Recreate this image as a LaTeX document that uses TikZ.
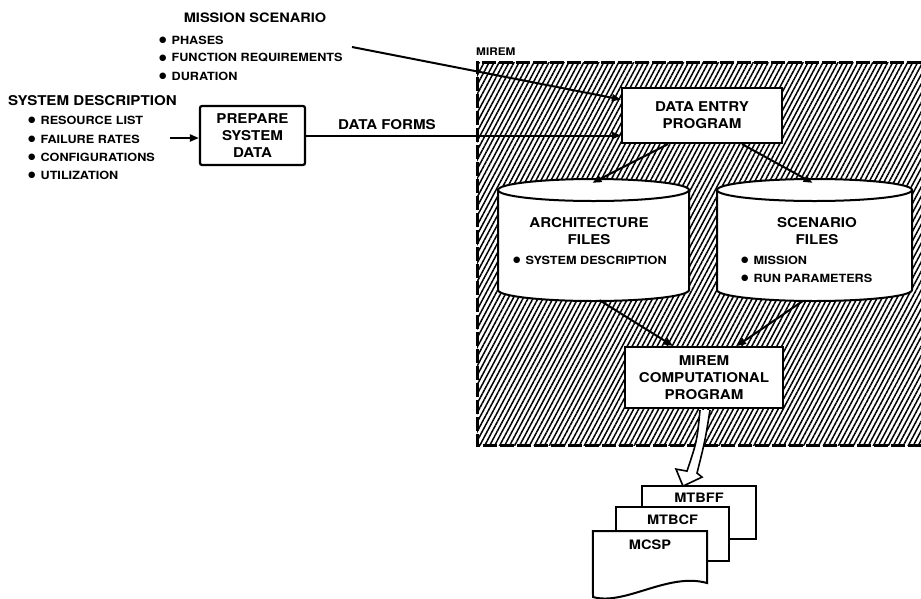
\documentclass[tikz,border=0pt]{standalone}
\usepackage{fontspec}
\setmainfont{TeX Gyre Heros}[FakeStretch=1.12]
\newfontfamily\djv{DejaVu Sans}
\usetikzlibrary{arrows.meta,patterns.meta,calc}
\newcommand\bul{\raisebox{1.4pt}{\djv\fontsize{8.5}{8.5}\selectfont ●}\hspace{5pt}}
\newcommand\drawcyl[5]{%
  \filldraw[fill=white,line width=2pt] (#1-#4,#2) -- (#1-#4,#3)
    arc[start angle=180,end angle=0,x radius=#4,y radius=#5] -- (#1+#4,#2)
    arc[start angle=360,end angle=180,x radius=#4,y radius=#5] -- cycle;
  \draw[line width=2pt] (#1-#4,#2) arc[start angle=180,end angle=0,x radius=#4,y radius=#5];}
\tikzset{
  ttl/.style={font=\fontsize{13}{15}\selectfont\bfseries,inner sep=0pt},
  itm/.style={font=\fontsize{11.3}{12}\selectfont\bfseries,inner sep=0pt,anchor=west},
  box/.style={draw,line width=2.2pt,fill=white,align=center,font=\fontsize{13.5}{17}\selectfont\bfseries},
  con/.style={line width=2pt,-{Triangle[length=9pt,width=7pt]}},
  doc/.style={draw,line width=2pt,fill=white,anchor=north,inner ysep=3pt,font=\fontsize{13}{15}\selectfont\bfseries},
}
\begin{document}
\begin{tikzpicture}[x=1pt,y=-1pt]
\useasboundingbox (0,0) rectangle (921,598);
% MIREM hatched region
\fill[pattern={Lines[angle=62,distance=4.4pt,line width=1.5pt]}] (477,62) rectangle (921,445);
\draw[line width=3pt,dash pattern=on 14pt off 3pt] (921,62) -- (477,62) -- (477,445) -- (921,445);
\node[ttl,anchor=west,font=\fontsize{10.5}{12}\selectfont\bfseries] (mirem) at (476,52) {MIREM};

% mission scenario
\node[ttl] (ms) at (255,18) {MISSION SCENARIO};
\node[itm] (ph) at (159,40) {\bul PHASES};
\node[itm] (fr) at (159,58) {\bul FUNCTION REQUIREMENTS};
\node[itm] (du) at (159,76) {\bul DURATION};

% system description
\node[ttl,anchor=west,font=\fontsize{13.5}{15}\selectfont\bfseries] (sd) at (8,101) {SYSTEM DESCRIPTION};
\node[itm] (rl) at (28,120) {\bul RESOURCE LIST};
\node[itm] (fa) at (28,139) {\bul FAILURE RATES};
\node[itm] (cf) at (28,157) {\bul CONFIGURATIONS};
\node[itm] (ut) at (28,175) {\bul UTILIZATION};

% boxes
\node[box,minimum width=105,minimum height=59,rounded corners=2pt] (prep) at (252.5,135.5) {PREPARE\\SYSTEM\\DATA};
\node[box,minimum width=160,minimum height=55] (de) at (702,115.5) {DATA ENTRY\\PROGRAM};
\node[box,minimum width=158,minimum height=61] (comp) at (704,377.5) {MIREM\\COMPUTATIONAL\\PROGRAM};
\node[font=\fontsize{13.5}{15}\selectfont\bfseries,inner sep=0pt] (df) at (387,125) {DATA FORMS};

% cylinders
\drawcyl{593.5}{190}{290}{95.5}{11}
\drawcyl{814.5}{190}{290}{97.5}{11}
\node[minimum width=191,minimum height=122,inner sep=0pt] (arch) at (593.5,240) {};
\node[minimum width=195,minimum height=122,inner sep=0pt] (scen) at (814.5,240) {};
\node[align=center,font=\fontsize{13.5}{17}\selectfont\bfseries] at (589,231.5) {ARCHITECTURE\\FILES};
\node[itm] at (513,260) {\bul SYSTEM DESCRIPTION};
\node[align=center,font=\fontsize{13.5}{17}\selectfont\bfseries] at (817,231.5) {SCENARIO\\FILES};
\node[itm] at (741,260) {\bul MISSION};
\node[itm] at (741,278) {\bul RUN PARAMETERS};

% documents
\node[doc,minimum width=114,text height=13pt,text depth=34pt] (mtbff) at (699,485) {MTBFF};
\node[doc,minimum width=113,text height=14.5pt,text depth=33.5pt] (mtbcf) at (672.5,506) {MTBCF};
\node[anchor=north,inner ysep=3pt,minimum width=114,text height=15.5pt,text depth=40pt,font=\fontsize{13}{15}\selectfont\bfseries] (mcsp) at (650,531) {};
\filldraw[fill=white,line width=2pt] (mcsp.north west) -- (593,597) .. controls (625,606) and (668,572) .. (707,583) -- (mcsp.north east) -- cycle;
\node[font=\fontsize{13}{15}\selectfont\bfseries,anchor=base] at (650,549.5) {MCSP};

% connectors
\coordinate (sdout) at (170,138);
\draw[con] (sdout) -- (prep.west |- sdout);
\draw[con] (prep.east) -- (prep.east -| de.west);
\coordinate (msout) at (352,47);
\draw[con] (msout) -- ($(de.north west)!0.22!(de.south west)$);
\draw[con] ($(de.south)+(-34,0)$) -- ($(arch.north)+(-1,4)$);
\draw[con] ($(de.south)+(40,0)$) -- ($(scen.north)+(-2,4)$);
\draw[con] ($(arch.south)+(6,-1)$) -- ($(comp.north)+(-31,0)$);
\draw[con] ($(scen.south)+(-12,0)$) -- ($(comp.north)+(33,0)$);
% hollow output arrow
\begin{scope}[shift={(comp.south)}]
\filldraw[fill=white,line width=1.6pt] (-4,1) .. controls (-7,32) .. (-17,62) -- (-28,60) -- (-21,77) -- (-2,68) -- (-7,64) .. controls (1,32) .. (6,1);
\end{scope}
\end{tikzpicture}
\end{document}
